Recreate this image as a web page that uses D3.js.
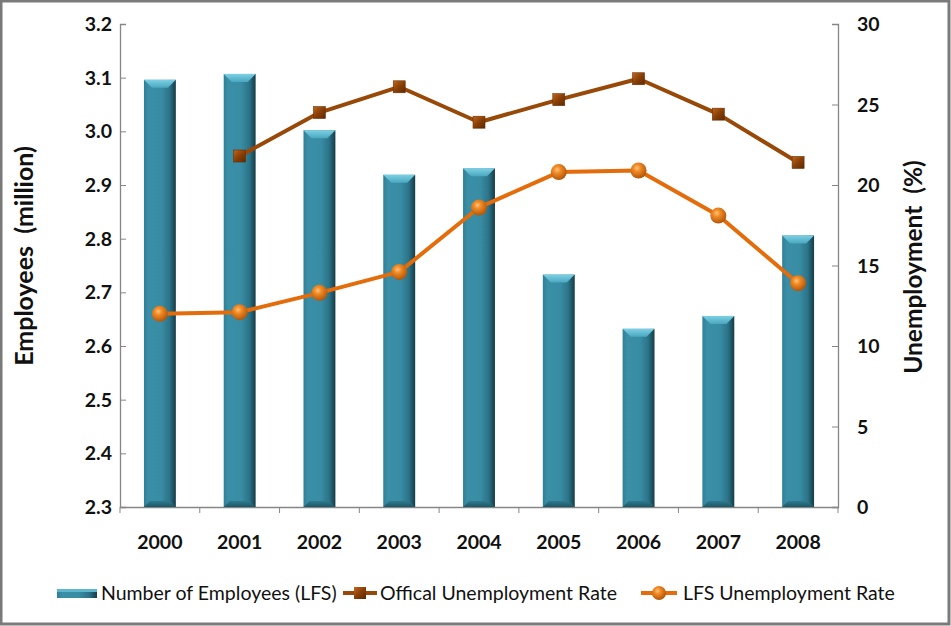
<!DOCTYPE html>
<html><head><meta charset="utf-8">
<script src="https://cdn.jsdelivr.net/npm/d3@7"></script>
<style>
body{margin:0;background:#fff;}
text{font-family:"Lato","Open Sans",sans-serif;}
</style></head>
<body><svg id="c" width="951" height="626"></svg>
<script>
const years = ["2000","2001","2002","2003","2004","2005","2006","2007","2008"];
const employees = [3.096, 3.107, 3.002, 2.919, 2.931, 2.733, 2.632, 2.656, 2.806];
const officialRate = [null, 21.8, 24.5, 26.1, 23.9, 25.3, 26.6, 24.4, 21.4];
const lfsRate = [12.0, 12.1, 13.3, 14.6, 18.6, 20.8, 20.9, 18.1, 13.9];
const leftTicks = [2.3,2.4,2.5,2.6,2.7,2.8,2.9,3.0,3.1,3.2];
const rightTicks = [0,5,10,15,20,25,30];
const seriesNames = ["Number of Employees (LFS)","Offical Unemployment Rate","LFS Unemployment Rate"];

(function(){
const svg = d3.select("#c");
const defs = svg.append("defs");

const bg = defs.append("linearGradient").attr("id","barG").attr("x1","0").attr("x2","1").attr("y1","0").attr("y2","0");
[["0%","#2f8096"],["15%","#3a8fa7"],["55%","#388ca3"],["80%","#2c7388"],["100%","#143c47"]].forEach(s=>bg.append("stop").attr("offset",s[0]).attr("stop-color",s[1]));
const tg = defs.append("linearGradient").attr("id","topG").attr("x1","0").attr("x2","0").attr("y1","0").attr("y2","1");
[["0%","#7dd0e4"],["100%","#4aa7bf"]].forEach(s=>tg.append("stop").attr("offset",s[0]).attr("stop-color",s[1]));
const btg = defs.append("linearGradient").attr("id","botG").attr("x1","0").attr("x2","0").attr("y1","0").attr("y2","1");
[["0%","#2e7a8e"],["100%","#1d5766"]].forEach(s=>btg.append("stop").attr("offset",s[0]).attr("stop-color",s[1]));
const cg = defs.append("radialGradient").attr("id","circG").attr("cx","0.4").attr("cy","0.35").attr("r","0.65");
[["0%","#ffc27a"],["35%","#f08a25"],["100%","#b2560a"]].forEach(s=>cg.append("stop").attr("offset",s[0]).attr("stop-color",s[1]));
const sg = defs.append("linearGradient").attr("id","sqG").attr("x1","0").attr("x2","1").attr("y1","0").attr("y2","1");
[["0%","#c0661a"],["50%","#8a3f06"],["100%","#5a2904"]].forEach(s=>sg.append("stop").attr("offset",s[0]).attr("stop-color",s[1]));

svg.append("rect").attr("x",1).attr("y",1).attr("width",948).attr("height",623)
  .attr("fill","#fff").attr("stroke","#7a7a7a").attr("stroke-width",3);

const pL=120, pR=838, pT=24, pB=507;
const x = d3.scaleBand().domain(years).range([pL,pR]).paddingInner(0.6).paddingOuter(0.3);
const yL = d3.scaleLinear().domain([2.3,3.2]).range([pB,pT]);
const yR = d3.scaleLinear().domain([0,30]).range([pB,pT]);
const cx = d => x(d)+x.bandwidth()/2;

const axL = svg.append("g").attr("transform",`translate(${pL},0)`)
  .call(d3.axisRight(yL).tickValues(leftTicks).tickSize(6).tickFormat(d3.format(".1f")));
axL.selectAll("text").remove();
const axR = svg.append("g").attr("transform",`translate(${pR},0)`)
  .call(d3.axisLeft(yR).tickValues(rightTicks).tickSize(6));
axR.selectAll("text").remove();
[axL,axR].forEach(a=>{a.select(".domain").attr("stroke","#868686").attr("stroke-width",1.3);a.selectAll(".tick line").attr("stroke","#868686");});

const tickFont = 19.5;
svg.append("g").selectAll("text").data(leftTicks).join("text")
  .attr("x",112).attr("y",d=>yL(d)+7).attr("text-anchor","end")
  .attr("font-size",tickFont).attr("font-weight","bold").attr("fill","#111").text(d=>d3.format(".1f")(d));
svg.append("g").selectAll("text").data(rightTicks).join("text")
  .attr("x",857).attr("y",d=>yR(d)+7).attr("text-anchor","start")
  .attr("font-size",tickFont).attr("font-weight","bold").attr("fill","#111").text(d=>d);

const axB = svg.append("g").attr("transform",`translate(0,${pB})`)
  .call(d3.axisBottom(x).tickSize(0).tickFormat(""));
axB.select(".domain").attr("stroke","#868686").attr("stroke-width",1.3);
const step = x.step();
svg.append("g").selectAll("line").data(d3.range(years.length+1)).join("line")
  .attr("x1",i=>pL+i*step).attr("x2",i=>pL+i*step).attr("y1",pB).attr("y2",pB+6)
  .attr("stroke","#868686");
svg.append("g").selectAll("text").data(years).join("text")
  .attr("x",d=>cx(d)).attr("y",549).attr("text-anchor","middle")
  .attr("font-size",tickFont).attr("font-weight","bold").attr("fill","#111").text(d=>d);

const bw = x.bandwidth();
const bars = svg.append("g").selectAll("g").data(years).join("g");
bars.append("rect").attr("x",d=>x(d)).attr("width",bw)
  .attr("y",(d,i)=>yL(employees[i])).attr("height",(d,i)=>pB-yL(employees[i]))
  .attr("fill","url(#barG)");
bars.append("path").attr("fill","url(#topG)").attr("d",(d,i)=>{
  const x0=x(d), y0=yL(employees[i]), b=8;
  return `M${x0},${y0}L${x0+bw},${y0}L${x0+bw-b},${y0+b}L${x0+b},${y0+b}Z`;});
bars.append("path").attr("fill","url(#botG)").attr("d",(d,i)=>{
  const x0=x(d), b=6;
  return `M${x0},${pB}L${x0+bw},${pB}L${x0+bw-b},${pB-b}L${x0+b},${pB-b}Z`;});

const offData = years.map((d,i)=>({d,v:officialRate[i]})).filter(o=>o.v!=null);
svg.append("path").datum(offData).attr("fill","none").attr("stroke","#984807").attr("stroke-width",4)
  .attr("stroke-linejoin","round")
  .attr("d",d3.line().x(o=>cx(o.d)).y(o=>yR(o.v)));
svg.append("g").selectAll("rect").data(offData).join("rect")
  .attr("x",o=>cx(o.d)-6).attr("y",o=>yR(o.v)-6).attr("width",12).attr("height",12)
  .attr("fill","url(#sqG)").attr("stroke","#6b3105").attr("stroke-width",0.6);

const lfsData = years.map((d,i)=>({d,v:lfsRate[i]}));
svg.append("path").datum(lfsData).attr("fill","none").attr("stroke","#e46c0a").attr("stroke-width",4)
  .attr("stroke-linejoin","round")
  .attr("d",d3.line().x(o=>cx(o.d)).y(o=>yR(o.v)));
svg.append("g").selectAll("circle").data(lfsData).join("circle")
  .attr("cx",o=>cx(o.d)).attr("cy",o=>yR(o.v)).attr("r",8)
  .attr("fill","url(#circG)");

svg.append("text").attr("transform","translate(33,256) rotate(-90)").attr("text-anchor","middle")
  .attr("font-size",25).attr("font-weight","bold").attr("fill","#111")
  .style("white-space","pre").text("Employees  (million)");
svg.append("text").attr("transform","translate(922,267) rotate(-90)").attr("text-anchor","middle")
  .attr("font-size",24.5).attr("font-weight","bold").attr("fill","#111")
  .style("white-space","pre").text("Unemployment  (%)");

const ly = 593, lf = 19.5;
const lg = svg.append("g");
lg.append("rect").attr("x",57).attr("y",ly-4).attr("width",40).attr("height",9).attr("fill","url(#barG)");
lg.append("rect").attr("x",57).attr("y",ly-4).attr("width",40).attr("height",3).attr("fill","#5fb6cc");
lg.append("text").attr("x",101).attr("y",ly+7).attr("font-size",lf).attr("fill","#111").text(seriesNames[0]);
lg.append("line").attr("x1",343).attr("x2",377).attr("y1",ly).attr("y2",ly).attr("stroke","#984807").attr("stroke-width",4);
lg.append("rect").attr("x",354).attr("y",ly-6).attr("width",12).attr("height",12).attr("fill","url(#sqG)");
lg.append("text").attr("x",380).attr("y",ly+7).attr("font-size",lf).attr("fill","#111").text(seriesNames[1]);
lg.append("line").attr("x1",641).attr("x2",677).attr("y1",ly).attr("y2",ly).attr("stroke","#e46c0a").attr("stroke-width",4);
lg.append("circle").attr("cx",659).attr("cy",ly).attr("r",7).attr("fill","url(#circG)");
lg.append("text").attr("x",683).attr("y",ly+7).attr("font-size",lf).attr("fill","#111").text(seriesNames[2]);
})();
</script></body></html>
